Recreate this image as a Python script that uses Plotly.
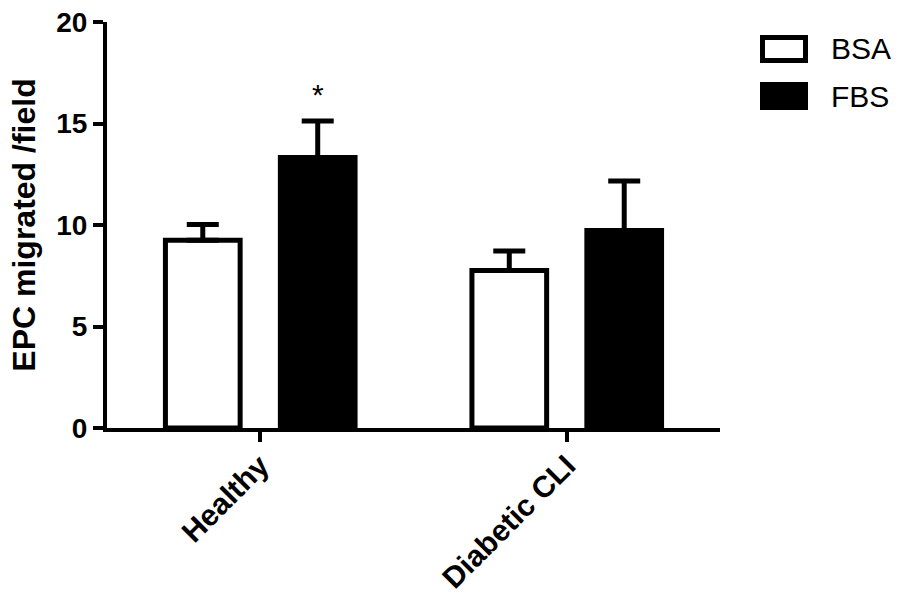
import plotly.graph_objects as go

categories = ["Healthy", "Diabetic CLI"]
series_names = ["BSA", "FBS"]
bsa_values = [9.25, 7.76]
bsa_errors = [0.77, 0.96]
fbs_values = [13.33, 9.73]
fbs_errors = [1.79, 2.44]
y_ticks = [0, 5, 10, 15, 20]
y_title = "EPC migrated /field"
sig_marks = ["*", ""]  # significance over FBS bars

FONT = "Liberation Sans, Arial, Helvetica, sans-serif"

fig = go.Figure()
fig.add_trace(go.Bar(
    x=categories, y=bsa_values, name=series_names[0],
    marker=dict(color="white", line=dict(color="black", width=5)),
    error_y=dict(type="data", symmetric=False, array=bsa_errors,
                 arrayminus=[0] * len(bsa_errors), color="black", thickness=5, width=16),
))
fig.add_trace(go.Bar(
    x=categories, y=fbs_values, name=series_names[1],
    marker=dict(color="black", line=dict(color="black", width=5)),
    error_y=dict(type="data", symmetric=False, array=fbs_errors,
                 arrayminus=[0] * len(fbs_errors), color="black", thickness=5, width=16),
))

L, R, T, B = 107, 184, 22, 166
W, H = 904, 594
pw = W - L - R
ph = H - T - B
cat_px = pw / 2.0
bargap = 0.25
offset_px = (1 - bargap) / 4 * cat_px

annotations = []
for cat, v, e, m in zip(categories, fbs_values, fbs_errors, sig_marks):
    if m:
        annotations.append(dict(x=cat, y=v + e, xref="x", yref="y", text=m,
                                showarrow=False, xshift=offset_px, yshift=27,
                                font=dict(family=FONT, size=30, color="black")))

def px_x(p):
    return (p - L) / pw

def px_y(p):
    return (H - B - p) / ph

shapes = [
    dict(type="rect", xref="paper", yref="paper",
         x0=px_x(762.5), x1=px_x(805.5), y0=px_y(60.5), y1=px_y(37.5),
         line=dict(color="black", width=5), fillcolor="white"),
    dict(type="rect", xref="paper", yref="paper",
         x0=px_x(762.5), x1=px_x(805.5), y0=px_y(107.5), y1=px_y(84.5),
         line=dict(color="black", width=5), fillcolor="black"),
]
for name, cy in zip(series_names, [49, 96]):
    annotations.append(dict(x=px_x(829), y=px_y(cy), xref="paper", yref="paper",
                            text=name, showarrow=False, xanchor="left", yanchor="middle",
                            font=dict(family=FONT, size=30, color="black")))

fig.update_layout(
    width=W, height=H,
    margin=dict(l=L, r=R, t=T, b=B),
    paper_bgcolor="white", plot_bgcolor="white",
    barmode="group", bargap=bargap, bargroupgap=0.35,
    showlegend=False,
    font=dict(family=FONT, color="black"),
    annotations=annotations,
    shapes=shapes,
    xaxis=dict(
        type="category", range=[-0.5, 1.5], automargin=False,
        showline=True, linecolor="black", linewidth=4,
        ticks="outside", ticklen=10, tickwidth=4, tickcolor="black",
        tickangle=-45, showgrid=False, zeroline=False, ticklabelstandoff=-6,
        tickfont=dict(family=FONT, size=30, color="black", weight="bold"),
    ),
    yaxis=dict(
        range=[0, 20], tickvals=y_ticks, ticktext=[str(t) for t in y_ticks],
        automargin=False,
        showline=True, linecolor="black", linewidth=4,
        ticks="outside", ticklen=10, tickwidth=4, tickcolor="black",
        showgrid=False, zeroline=False,
        tickfont=dict(family=FONT, size=28, color="black", weight="bold"),
        title=dict(text=y_title, standoff=12,
                   font=dict(family=FONT, size=32, color="black", weight="bold")),
    ),
)

fig.write_html("out.html")
